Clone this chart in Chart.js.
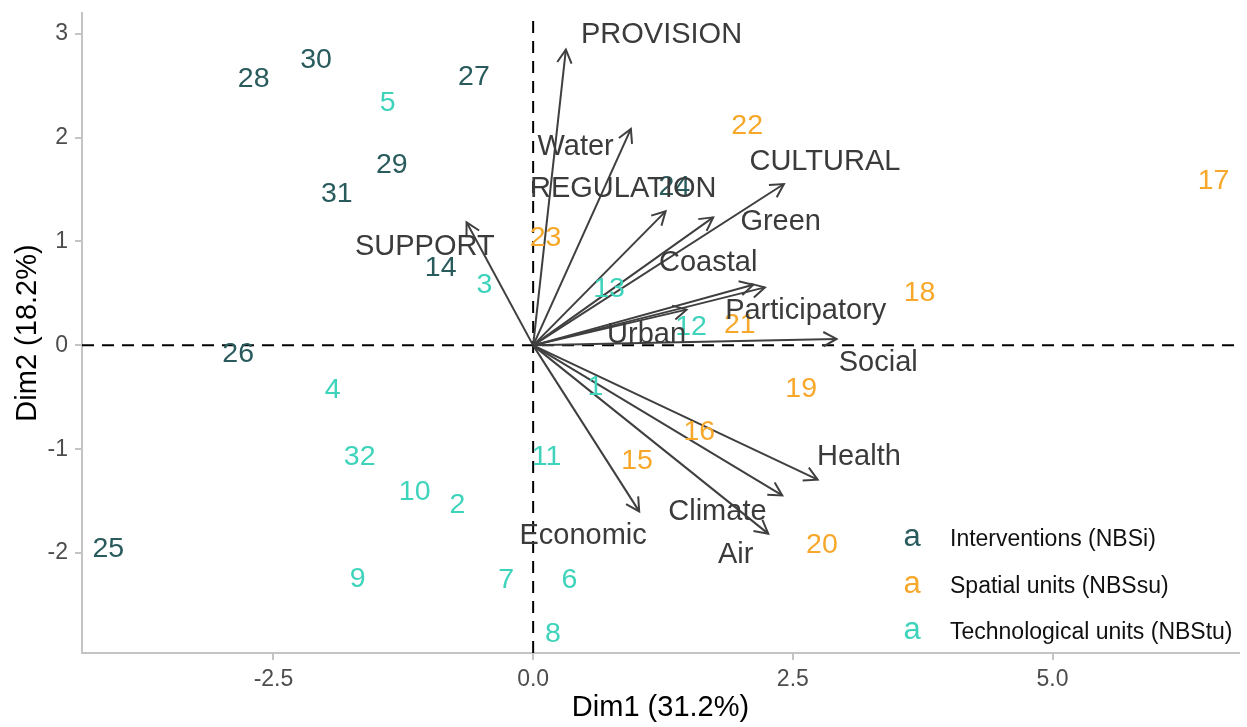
<!DOCTYPE html>
<html>
<head>
<meta charset="utf-8">
<title>PCA biplot</title>
<script src="https://cdn.jsdelivr.net/npm/chart.js@4.4.1/dist/chart.umd.min.js"></script>
<style>
  html, body { margin: 0; padding: 0; background: #fff; }
  #wrap { width: 1247px; height: 727px; }
</style>
</head>
<body>
<div id="wrap"><canvas id="biplot"></canvas></div>
<script>
// axis ranges and ticks
const X_MIN = -4.343, X_MAX = 6.795;
const Y_MIN = -2.961, Y_MAX = 3.199;
const xTicks = [-2.5, 0, 2.5, 5];
const yTicks = [-2, -1, 0, 1, 2, 3];

// individuals - Interventions (NBSi)
const nbsiLabels = ['25', '26', '27', '28', '29', '30', '31', '14', '24'];
const nbsiX = [-4.09, -2.84, -0.57, -2.69, -1.36, -2.09, -1.89, -0.89, 1.36];
const nbsiY = [-1.96, -0.08, 2.58, 2.56, 1.73, 2.75, 1.46, 0.74, 1.52];

// individuals - Spatial units (NBSsu)
const nbssuLabels = ['15', '16', '17', '18', '19', '20', '21', '22', '23'];
const nbssuX = [1.00, 1.60, 6.55, 3.72, 2.58, 2.78, 1.99, 2.06, 0.12];
const nbssuY = [-1.11, -0.84, 1.58, 0.50, -0.42, -1.92, 0.19, 2.11, 1.03];

// individuals - Technological units (NBStu)
const nbstuLabels = ['1', '2', '3', '4', '5', '6', '7', '8', '9', '10', '11', '12', '13', '32'];
const nbstuX = [0.60, -0.73, -0.47, -1.93, -1.40, 0.35, -0.26, 0.19, -1.69, -1.14, 0.13, 1.52, 0.73, -1.67];
const nbstuY = [-0.40, -1.54, 0.58, -0.43, 2.33, -2.26, -2.26, -2.78, -2.25, -1.41, -1.08, 0.18, 0.54, -1.08];

// variables: arrow tips and label positions
const varNames = ['PROVISION', 'Water', 'REGULATION', 'CULTURAL', 'Green', 'SUPPORT', 'Coastal',
  'Participatory', 'Urban', 'Social', 'Health', 'Climate', 'Air', 'Economic'];
const varX = [0.315, 0.941, 1.275, 2.414, 1.733, -0.641, 2.118, 2.231, 1.477, 2.921, 2.739, 2.398, 2.263, 1.021];
const varY = [2.846, 2.083, 1.290, 1.553, 1.232, 1.184, 0.584, 0.558, 0.344, 0.062, -1.293, -1.444, -1.812, -1.598];
const varLabX = [1.236, 0.409, 0.867, 2.809, 2.383, -1.043, 1.685, 2.624, 1.092, 3.322, 3.136, 1.774, 1.950, 0.481];
const varLabY = [2.990, 1.908, 1.506, 1.763, 1.186, 0.950, 0.793, 0.334, 0.103, -0.169, -1.076, -1.605, -2.022, -1.838];

const FONT = '"Liberation Sans", Arial, sans-serif';
const ARROW_COLOR = '#3f3f3f';
const HEAD = 15;

function points(xs, ys) {
  return xs.map((x, i) => ({ x: x, y: ys[i] }));
}

const datasets = [];

// individuals (text only, drawn by plugin)
datasets.push({ label: 'Interventions (NBSi)', kind: 'ind', names: nbsiLabels,
  data: points(nbsiX, nbsiY), color: '#295b5d', pointRadius: 0 });
datasets.push({ label: 'Spatial units (NBSsu)', kind: 'ind', names: nbssuLabels,
  data: points(nbssuX, nbssuY), color: '#f7a82a', pointRadius: 0 });
datasets.push({ label: 'Technological units (NBStu)', kind: 'ind', names: nbstuLabels,
  data: points(nbstuX, nbstuY), color: '#3ed3bb', pointRadius: 0 });

// arrows from the origin
varNames.forEach((name, i) => {
  datasets.push({
    label: name,
    kind: 'arrow',
    data: [{ x: 0, y: 0 }, { x: varX[i], y: varY[i] }],
    showLine: true,
    borderColor: ARROW_COLOR,
    borderWidth: 2,
    pointRadius: 0
  });
});

// dashed zero lines
datasets.push({ label: 'h0', kind: 'ref', data: [{ x: X_MIN, y: 0 }, { x: X_MAX, y: 0 }],
  showLine: true, borderColor: '#000', borderWidth: 2, borderDash: [12, 8], pointRadius: 0 });
datasets.push({ label: 'v0', kind: 'ref', data: [{ x: 0, y: Y_MIN }, { x: 0, y: Y_MAX }],
  showLine: true, borderColor: '#000', borderWidth: 2, borderDash: [12, 8], pointRadius: 0 });

const biplotText = {
  id: 'biplotText',
  afterDatasetsDraw(chart) {
    const ctx = chart.ctx;
    const xs = chart.scales.x, ys = chart.scales.y;
    ctx.save();

    // arrow heads
    chart.data.datasets.forEach((ds, i) => {
      if (ds.kind !== 'arrow') return;
      const meta = chart.getDatasetMeta(i);
      const p0 = meta.data[0], p1 = meta.data[1];
      const ang = Math.atan2(p1.y - p0.y, p1.x - p0.x);
      ctx.strokeStyle = ds.borderColor;
      ctx.lineWidth = ds.borderWidth;
      ctx.beginPath();
      ctx.moveTo(p1.x - HEAD * Math.cos(ang - 0.5), p1.y - HEAD * Math.sin(ang - 0.5));
      ctx.lineTo(p1.x, p1.y);
      ctx.lineTo(p1.x - HEAD * Math.cos(ang + 0.5), p1.y - HEAD * Math.sin(ang + 0.5));
      ctx.stroke();
    });

    ctx.textAlign = 'center';
    ctx.textBaseline = 'middle';

    // individual labels
    ctx.font = '28.5px ' + FONT;
    chart.data.datasets.forEach((ds, i) => {
      if (ds.kind !== 'ind') return;
      const meta = chart.getDatasetMeta(i);
      ctx.fillStyle = ds.color;
      meta.data.forEach((pt, j) => ctx.fillText(ds.names[j], pt.x, pt.y));
    });

    // variable labels
    ctx.font = '29px ' + FONT;
    ctx.fillStyle = '#3b3b3b';
    varNames.forEach((name, i) => {
      ctx.fillText(name, xs.getPixelForValue(varLabX[i]), ys.getPixelForValue(varLabY[i]));
    });

    // legend, bottom right inside the plot
    const area = chart.chartArea;
    const rows = [113.3, 66.7, 20.7];
    let r = 0;
    chart.data.datasets.forEach((ds) => {
      if (ds.kind !== 'ind') return;
      const y = area.bottom - rows[r++];
      ctx.textAlign = 'center';
      ctx.font = '31px ' + FONT;
      ctx.fillStyle = ds.color;
      ctx.fillText('a', area.right - 327, y - 2);
      ctx.textAlign = 'left';
      ctx.font = '23px ' + FONT;
      ctx.fillStyle = '#111';
      ctx.fillText(ds.label, area.right - 289, y);
    });
    ctx.restore();
  }
};

new Chart(document.getElementById('biplot'), {
  type: 'scatter',
  data: { datasets },
  plugins: [biplotText],
  options: {
    responsive: true,
    maintainAspectRatio: false,
    animation: false,
    layout: { padding: { left: 0, right: 8, top: 13, bottom: 0 } },
    plugins: {
      legend: { display: false },
      tooltip: { enabled: false }
    },
    scales: {
      x: {
        type: 'linear',
        min: X_MIN,
        max: X_MAX,
        afterBuildTicks: (scale) => { scale.ticks = xTicks.map(v => ({ value: v })); },
        afterFit: (scale) => { scale.height = 74; scale.paddingLeft = 0; scale.paddingRight = 0; },
        border: { display: true, color: '#c4c4c4', width: 2 },
        grid: { drawOnChartArea: false, drawTicks: true, tickLength: 7, color: '#c4c4c4', lineWidth: 2 },
        ticks: {
          padding: 6,
          color: '#4d4d4d',
          font: { family: FONT, size: 23 },
          maxRotation: 0,
          callback: (v) => Number(v).toFixed(1)
        },
        title: {
          display: true,
          text: 'Dim1 (31.2%)',
          color: '#000',
          font: { family: FONT, size: 29 },
          padding: { top: 0, bottom: 2 }
        }
      },
      y: {
        type: 'linear',
        min: Y_MIN,
        max: Y_MAX,
        afterBuildTicks: (scale) => { scale.ticks = yTicks.map(v => ({ value: v })); },
        afterFit: (scale) => { scale.width = 82; scale.paddingTop = 0; scale.paddingBottom = 0; },
        border: { display: true, color: '#c4c4c4', width: 2 },
        grid: { drawOnChartArea: false, drawTicks: true, tickLength: 7, color: '#c4c4c4', lineWidth: 2 },
        ticks: {
          padding: 7,
          color: '#4d4d4d',
          font: { family: FONT, size: 23 },
          callback: (v) => String(v)
        },
        title: {
          display: true,
          text: 'Dim2 (18.2%)',
          color: '#000',
          font: { family: FONT, size: 29 },
          padding: { top: 11, bottom: 0 }
        }
      }
    }
  }
});
</script>
</body>
</html>
